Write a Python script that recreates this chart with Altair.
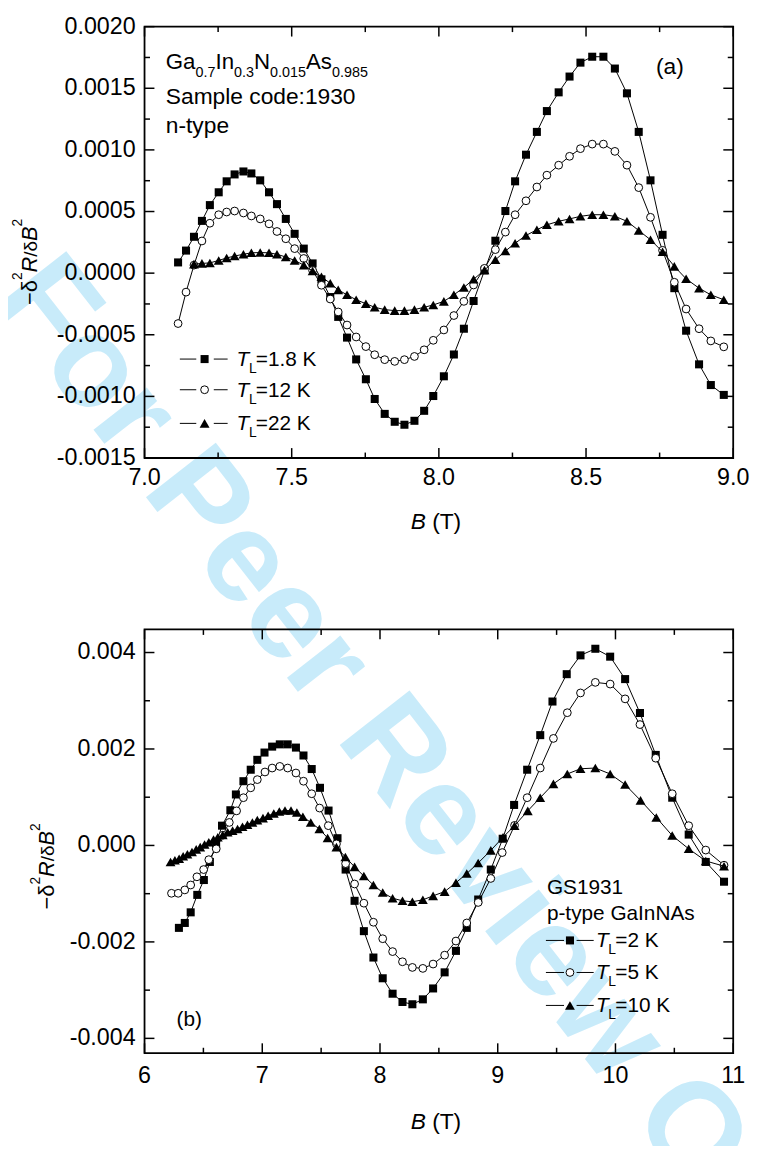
import altair as alt
import pandas as pd

FONT = "Liberation Sans"

# ---------------- Panel (a): Ga0.7In0.3N0.015As0.985, sample 1930, n-type ----------------
a_B = [7.114, 7.141, 7.168, 7.195, 7.222, 7.252, 7.279, 7.306, 7.336, 7.363,
       7.393, 7.423, 7.450, 7.480, 7.510, 7.541, 7.571, 7.601, 7.631, 7.658,
       7.688, 7.719, 7.752, 7.782, 7.816, 7.850, 7.883, 7.917, 7.950, 7.981,
       8.017, 8.051, 8.085, 8.118, 8.155, 8.192, 8.226, 8.259, 8.296, 8.333,
       8.367, 8.407, 8.444, 8.481, 8.521, 8.559, 8.598, 8.639, 8.679, 8.719,
       8.760, 8.800, 8.840, 8.884, 8.924, 8.968]
a_T1p8 = [0.087e-3, 0.183e-3, 0.295e-3, 0.424e-3, 0.552e-3, 0.656e-3, 0.745e-3, 0.801e-3, 0.825e-3, 0.809e-3,
          0.753e-3, 0.656e-3, 0.560e-3, 0.440e-3, 0.319e-3, 0.199e-3, 0.079e-3, -0.050e-3, -0.194e-3, -0.355e-3,
          -0.523e-3, -0.700e-3, -0.861e-3, -1.021e-3, -1.142e-3, -1.206e-3, -1.230e-3, -1.198e-3, -1.117e-3, -0.997e-3,
          -0.837e-3, -0.660e-3, -0.451e-3, -0.226e-3, 0.022e-3, 0.263e-3, 0.504e-3, 0.745e-3, 0.961e-3, 1.146e-3,
          1.315e-3, 1.467e-3, 1.595e-3, 1.708e-3, 1.756e-3, 1.756e-3, 1.660e-3, 1.459e-3, 1.146e-3, 0.753e-3,
          0.311e-3, -0.122e-3, -0.467e-3, -0.740e-3, -0.908e-3, -0.988e-3]
a_T12 = [-0.409e-3, -0.154e-3, 0.065e-3, 0.261e-3, 0.405e-3, 0.474e-3, 0.496e-3, 0.504e-3, 0.488e-3, 0.464e-3,
         0.440e-3, 0.400e-3, 0.338e-3, 0.279e-3, 0.199e-3, 0.119e-3, 0.022e-3, -0.098e-3, -0.210e-3, -0.315e-3,
         -0.421e-3, -0.518e-3, -0.596e-3, -0.662e-3, -0.702e-3, -0.716e-3, -0.702e-3, -0.676e-3, -0.622e-3, -0.545e-3,
         -0.461e-3, -0.344e-3, -0.229e-3, -0.096e-3, 0.039e-3, 0.191e-3, 0.333e-3, 0.474e-3, 0.587e-3, 0.699e-3,
         0.795e-3, 0.876e-3, 0.948e-3, 1.010e-3, 1.047e-3, 1.047e-3, 0.988e-3, 0.876e-3, 0.694e-3, 0.453e-3,
         0.185e-3, -0.074e-3, -0.291e-3, -0.451e-3, -0.550e-3, -0.598e-3]
a_B22 = a_B[2:]
a_T22 = [0.073e-3, 0.079e-3, 0.083e-3, 0.103e-3, 0.123e-3, 0.139e-3, 0.153e-3, 0.165e-3, 0.167e-3, 0.165e-3,
         0.153e-3, 0.131e-3, 0.103e-3, 0.065e-3, 0.017e-3, -0.030e-3, -0.082e-3, -0.136e-3, -0.176e-3, -0.216e-3,
         -0.248e-3, -0.277e-3, -0.296e-3, -0.304e-3, -0.304e-3, -0.296e-3, -0.277e-3, -0.258e-3, -0.229e-3, -0.176e-3,
         -0.116e-3, -0.050e-3, 0.025e-3, 0.108e-3, 0.179e-3, 0.243e-3, 0.306e-3, 0.352e-3, 0.392e-3, 0.421e-3,
         0.440e-3, 0.461e-3, 0.474e-3, 0.474e-3, 0.461e-3, 0.421e-3, 0.346e-3, 0.271e-3, 0.173e-3, 0.055e-3,
         -0.046e-3, -0.122e-3, -0.176e-3, -0.216e-3]

# ---------------- Panel (b): GS1931 p-type GaInNAs ----------------
b_B2 = [6.292, 6.342, 6.392, 6.448, 6.504, 6.555, 6.608, 6.658, 6.729, 6.776,
        6.840, 6.902, 6.958, 7.019, 7.084, 7.149, 7.216, 7.286, 7.350, 7.420,
        7.490, 7.563, 7.639, 7.708, 7.784, 7.863, 7.944, 8.023, 8.107, 8.191,
        8.275, 8.364, 8.451, 8.549, 8.645, 8.737, 8.834, 8.941, 9.042, 9.139,
        9.250, 9.361, 9.465, 9.586, 9.703, 9.829, 9.955, 10.082, 10.208, 10.342,
        10.482, 10.622, 10.767, 10.922]
b_T2 = [-1.709e-3, -1.607e-3, -1.387e-3, -1.025e-3, -0.717e-3, -0.342e-3, 0.027e-3, 0.410e-3, 0.730e-3, 1.057e-3,
        1.332e-3, 1.570e-3, 1.775e-3, 1.926e-3, 2.049e-3, 2.096e-3, 2.096e-3, 2.029e-3, 1.865e-3, 1.584e-3,
        1.195e-3, 0.723e-3, 0.150e-3, -0.500e-3, -1.148e-3, -1.777e-3, -2.324e-3, -2.754e-3, -3.074e-3, -3.246e-3,
        -3.293e-3, -3.191e-3, -2.965e-3, -2.631e-3, -2.186e-3, -1.709e-3, -1.121e-3, -0.500e-3, 0.139e-3, 0.840e-3,
        1.570e-3, 2.287e-3, 2.984e-3, 3.551e-3, 3.941e-3, 4.078e-3, 3.914e-3, 3.449e-3, 2.746e-3, 1.877e-3,
        0.990e-3, 0.225e-3, -0.342e-3, -0.752e-3]
b_B5 = [6.229, 6.286, 6.342, 6.392, 6.445, 6.502, 6.546, 6.609, 6.664, 6.720,
        6.782, 6.840, 6.902, 6.958, 7.023, 7.084, 7.149, 7.216, 7.286, 7.350,
        7.420, 7.487, 7.561, 7.630, 7.708, 7.784, 7.863, 7.944, 8.023, 8.107,
        8.191, 8.275, 8.364, 8.451, 8.549, 8.645, 8.737, 8.834, 8.941, 9.038,
        9.143, 9.250, 9.361, 9.473, 9.591, 9.703, 9.829, 9.955, 10.082, 10.208,
        10.342, 10.482, 10.622, 10.767, 10.922]
b_T5 = [-0.992e-3, -0.992e-3, -0.922e-3, -0.820e-3, -0.650e-3, -0.500e-3, -0.295e-3, -0.070e-3, 0.211e-3, 0.477e-3,
        0.717e-3, 0.990e-3, 1.195e-3, 1.365e-3, 1.523e-3, 1.605e-3, 1.639e-3, 1.605e-3, 1.502e-3, 1.332e-3,
        1.072e-3, 0.775e-3, 0.410e-3, 0.033e-3, -0.377e-3, -0.799e-3, -1.197e-3, -1.592e-3, -1.934e-3, -2.201e-3,
        -2.412e-3, -2.529e-3, -2.549e-3, -2.459e-3, -2.275e-3, -1.982e-3, -1.607e-3, -1.182e-3, -0.684e-3, -0.148e-3,
        0.416e-3, 0.990e-3, 1.605e-3, 2.219e-3, 2.752e-3, 3.162e-3, 3.381e-3, 3.346e-3, 3.039e-3, 2.506e-3,
        1.809e-3, 1.072e-3, 0.410e-3, -0.096e-3, -0.410e-3]
b_B10 = [6.221, 6.258, 6.294, 6.328, 6.364, 6.403, 6.439, 6.473, 6.510, 6.546,
         6.586, 6.622, 6.664, 6.706, 6.748, 6.790, 6.832, 6.874, 6.916, 6.958,
         7.006, 7.050, 7.098, 7.145, 7.193, 7.244, 7.294, 7.345, 7.412, 7.485,
         7.555, 7.630, 7.706, 7.784, 7.863, 7.944, 8.023, 8.107, 8.191, 8.275,
         8.364, 8.451, 8.549, 8.645, 8.737, 8.834, 8.941, 9.045, 9.143, 9.255,
         9.361, 9.473, 9.591, 9.703, 9.829, 9.955, 10.082, 10.213, 10.347, 10.482,
         10.622, 10.767, 10.922]
b_T10 = [-0.342e-3, -0.307e-3, -0.275e-3, -0.225e-3, -0.184e-3, -0.137e-3, -0.082e-3, -0.035e-3, 0.020e-3, 0.068e-3,
         0.123e-3, 0.170e-3, 0.217e-3, 0.273e-3, 0.307e-3, 0.340e-3, 0.389e-3, 0.430e-3, 0.477e-3, 0.525e-3,
         0.566e-3, 0.615e-3, 0.662e-3, 0.703e-3, 0.723e-3, 0.723e-3, 0.682e-3, 0.594e-3, 0.477e-3, 0.340e-3,
         0.156e-3, -0.035e-3, -0.240e-3, -0.445e-3, -0.635e-3, -0.820e-3, -0.977e-3, -1.094e-3, -1.148e-3, -1.168e-3,
         -1.127e-3, -1.045e-3, -0.957e-3, -0.773e-3, -0.582e-3, -0.363e-3, -0.102e-3, 0.170e-3, 0.410e-3, 0.717e-3,
         0.990e-3, 1.277e-3, 1.482e-3, 1.590e-3, 1.605e-3, 1.482e-3, 1.262e-3, 0.934e-3, 0.580e-3, 0.205e-3,
         -0.070e-3, -0.322e-3, -0.430e-3]

# ---------------- ticks / tick labels ----------------
a_xmaj = [7.0, 7.5, 8.0, 8.5, 9.0]
a_xlab = ["7.0", "7.5", "8.0", "8.5", "9.0"]
a_xmin = [7.25, 7.75, 8.25, 8.75]
a_ymaj = [-0.0015, -0.0010, -0.0005, 0.0, 0.0005, 0.0010, 0.0015, 0.0020]
a_ylab = ["-0.0015", "-0.0010", "-0.0005", "0.0000", "0.0005", "0.0010", "0.0015", "0.0020"]
a_ymin = [-0.00125, -0.00075, -0.00025, 0.00025, 0.00075, 0.00125, 0.00175]
b_xmaj = [6, 7, 8, 9, 10, 11]
b_xlab = ["6", "7", "8", "9", "10", "11"]
b_xmin = [6.5, 7.5, 8.5, 9.5, 10.5]
b_ymaj = [-0.004, -0.002, 0.0, 0.002, 0.004]
b_ylab = ["-0.004", "-0.002", "0.000", "0.002", "0.004"]
b_ymin = [-0.003, -0.001, 0.001, 0.003]

W, H = 752, 1144
one = pd.DataFrame({"k": [0]})


def S(domain, rng):
    return alt.Scale(domain=domain, range=rng, nice=False, zero=False)


# panel boxes (left, right, top, bottom) in pixels
A = dict(l=138, r=733, t=12.7, b=448.7)
Bx = dict(l=138, r=733, t=622, b=1050.3)
xa = S([7.0, 9.0], [A["l"], A["r"]])
ya = S([-0.0015, 0.0020], [448.7, 12.7])
xb = S([6, 11], [Bx["l"], Bx["r"]])
yb = S([-0.004, 0.004], [1035.3, 645.3])

MARK = {
    "sq": dict(shape="square", filled=True, color="black", size=66, opacity=1),
    "ci": dict(shape="circle", filled=True, fill="white", stroke="black", strokeWidth=1, size=62, opacity=1),
    "tr": dict(shape="triangle-up", filled=True, color="black", size=100, opacity=1),
}


def txt(s, x, y, size=23, style="normal", align="left", angle=0, baseline="alphabetic", weight="normal"):
    return alt.Chart(one).mark_text(text=s, font=FONT, fontSize=size, fontStyle=style, fontWeight=weight,
                                    align=align, baseline=baseline, angle=angle, color="black"
                                    ).encode(x=alt.value(x), y=alt.value(y))


def series(Bv, vv, xs, ys, shape):
    df = pd.DataFrame({"B": Bv, "v": vv})
    enc = dict(x=alt.X("B:Q", scale=xs, axis=None), y=alt.Y("v:Q", scale=ys, axis=None))
    return [alt.Chart(df).mark_line(color="black", strokeWidth=1).encode(**enc),
            alt.Chart(df).mark_point(**MARK[shape]).encode(**enc)]


def frame_and_ticks(box, xs, ys, xmaj, xmin, xlab, ymaj, ymin, ylab, xlab_y):
    out = []
    L, R, T, Bt = box["l"], box["r"], box["t"], box["b"]
    for vals, ln in ((ymaj, 10), (ymin, 5.5)):
        d = pd.DataFrame({"v": vals})
        y = alt.Y("v:Q", scale=ys, axis=None)
        out.append(alt.Chart(d).mark_rule(color="black", strokeWidth=1.5).encode(y=y, x=alt.value(L), x2=alt.value(L + ln)))
        out.append(alt.Chart(d).mark_rule(color="black", strokeWidth=1.5).encode(y=y, x=alt.value(R - ln), x2=alt.value(R)))
    for vals, ln in ((xmaj, 10), (xmin, 5.5)):
        d = pd.DataFrame({"v": vals})
        x = alt.X("v:Q", scale=xs, axis=None)
        out.append(alt.Chart(d).mark_rule(color="black", strokeWidth=1.5).encode(x=x, y=alt.value(Bt - ln), y2=alt.value(Bt)))
        out.append(alt.Chart(d).mark_rule(color="black", strokeWidth=1.5).encode(x=x, y=alt.value(T), y2=alt.value(T + ln)))
    out.append(alt.Chart(one).mark_rect(filled=False, color="black", strokeWidth=1.8).encode(
        x=alt.value(L), x2=alt.value(R), y=alt.value(T), y2=alt.value(Bt)))
    dy = pd.DataFrame({"v": ymaj, "t": ylab})
    out.append(alt.Chart(dy).mark_text(align="right", baseline="middle", font=FONT, fontSize=23.5, color="black").encode(
        y=alt.Y("v:Q", scale=ys, axis=None), x=alt.value(L - 9), text="t:N"))
    dx = pd.DataFrame({"v": xmaj, "t": xlab})
    out.append(alt.Chart(dx).mark_text(align="center", baseline="middle", font=FONT, fontSize=23.5, color="black").encode(
        x=alt.X("v:Q", scale=xs, axis=None), y=alt.value(xlab_y), text="t:N"))
    return out


def ytitle(xbase, xsup, y0):
    parts = [("\u2212\u03b4", 22, "normal", 25.1, False), ("2", 14, "normal", 7.8, True),
             ("R", 22, "italic", 15.9, False), ("/\u03b4", 19, "normal", 15.8, False),
             ("B", 22, "italic", 14.7, False), ("2", 14, "normal", 7.8, True)]
    out, y = [], y0
    for s, size, style, adv, sup in parts:
        out.append(txt(s, xsup if sup else xbase, y, size, style, angle=270))
        y -= adv
    return out


def xtitle(y):
    return [txt("B", 407, y, 23, "italic"), txt("(T)", 428.7, y, 23)]


def legend_row(shape, y, xm, l0, l1, r0, r1, tx, label):
    return [
        alt.Chart(one).mark_rule(color="black", strokeWidth=1).encode(x=alt.value(l0), x2=alt.value(l1), y=alt.value(y)),
        alt.Chart(one).mark_rule(color="black", strokeWidth=1).encode(x=alt.value(r0), x2=alt.value(r1), y=alt.value(y)),
        alt.Chart(one).mark_point(**MARK[shape]).encode(x=alt.value(xm), y=alt.value(y)),
        txt("T", tx, y + 7, 21, "italic"),
        txt("L", tx + 12.5, y + 14, 14),
        txt(label, tx + 19.5, y + 7, 21),
    ]


# ---------------- watermark ----------------
watermark = alt.Chart(one).mark_text(
    text="For Peer Review Only", font=FONT, fontSize=130, fontWeight="bold", color="#c8ebfa",
    align="left", baseline="alphabetic", angle=52, clip=True).encode(x=alt.value(-17), y=alt.value(288))

# ---------------- panel (a) ----------------
la = []
la += series(a_B, a_T1p8, xa, ya, "sq")
la += series(a_B, a_T12, xa, ya, "ci")
la += series(a_B22, a_T22, xa, ya, "tr")
la += frame_and_ticks(A, xa, ya, a_xmaj, a_xmin, a_xlab, a_ymaj, a_ymin, a_ylab, 469)
sub_y, main_y = 63.7, 55.3
for s, x, sub in (("Ga", 159.5, False), ("0.7", 189.5, True), ("In", 209.7, False), ("0.3", 228.5, True),
                  ("N", 248.7, False), ("0.015", 264.9, True), ("As", 301.2, False), ("0.985", 327.5, True)):
    la.append(txt(s, x, sub_y if sub else main_y, 14.5 if sub else 22.5))
la.append(txt("Sample code:1930", 159.5, 91.3, 23))
la.append(txt("n-type", 159.5, 120.3, 23))
la.append(txt("(a)", 655, 61, 23))
for shape, y, lab in (("sq", 348.7, "=1.8 K"), ("ci", 379.7, "=12 K"), ("tr", 413.7, "=22 K")):
    la += legend_row(shape, y, 198.7, 173.7, 190.3, 208, 222, 231, lab)
la += ytitle(29, 14, 294)
la += xtitle(520)

# ---------------- panel (b) ----------------
lb = []
lb += series(b_B2, b_T2, xb, yb, "sq")
lb += series(b_B5, b_T5, xb, yb, "ci")
lb += series(b_B10, b_T10, xb, yb, "tr")
lb += frame_and_ticks(Bx, xb, yb, b_xmaj, b_xmin, b_xlab, b_ymaj, b_ymin, b_ylab, 1073)
lb.append(txt("GS1931", 544.7, 889.7, 21))
lb.append(txt("p-type GaInNAs", 544.7, 915.3, 21))
lb.append(txt("(b)", 170.3, 1023, 21))
for shape, y, lab in (("sq", 936.3, "=2 K"), ("ci", 968.7, "=5 K"), ("tr", 1002, "=10 K")):
    lb += legend_row(shape, y, 568, 543.7, 562, 574.7, 592, 594.3, lab)
lb += ytitle(46, 32, 905)
lb += xtitle(1127)

chart = alt.layer(watermark, alt.layer(*la), alt.layer(*lb)).resolve_scale(
    x="independent", y="independent"
).properties(
    width=W, height=H, autosize=alt.AutoSizeParams(type="none"), padding=0
).configure_view(strokeWidth=0)

chart.save("out.html", embed_options={"renderer": "svg", "actions": False})
